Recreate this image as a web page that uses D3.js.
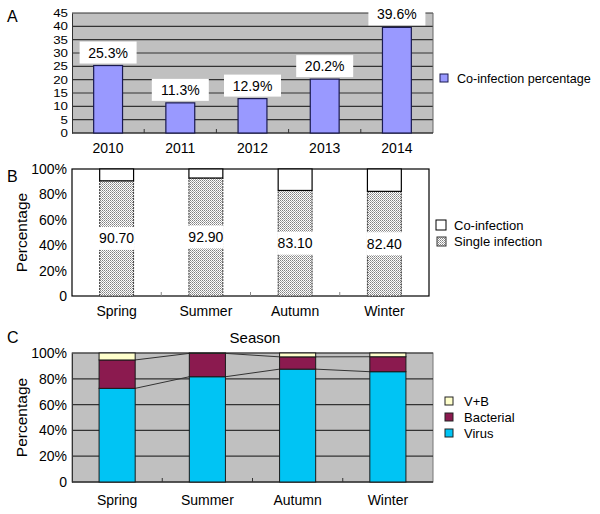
<!DOCTYPE html>
<html><head><meta charset="utf-8">
<script src="https://cdn.jsdelivr.net/npm/d3@7"></script>
<style>body{margin:0;background:#fff}svg{font-family:"Liberation Sans",Arial,sans-serif}</style>
</head><body><svg id="c" width="600" height="514"></svg>
<script>
// ---------- data ----------
const years = ["2010","2011","2012","2013","2014"];
const coinfectionPct = [25.3, 11.3, 12.9, 20.2, 39.6];
const coinfectionLabels = ["25.3%","11.3%","12.9%","20.2%","39.6%"];
const yTicksA = [0,5,10,15,20,25,30,35,40,45];

const seasons = ["Spring","Summer","Autumn","Winter"];
const singleInfection = [90.7, 92.9, 83.1, 82.4];
const singleLabels = ["90.70","92.90","83.10","82.40"];
const pctTicks = [0,20,40,60,80,100];

const virus = [72.6, 81.6, 87.5, 85.5];
const bacterial = [22.0, 18.1, 9.5, 11.6];
const vPlusB = [5.4, 0.3, 3.0, 2.9];

const svg = d3.select("#c");
const defs = svg.append("defs");
const pat = defs.append("pattern").attr("id","dots").attr("width",2).attr("height",2).attr("patternUnits","userSpaceOnUse");
pat.append("rect").attr("width",2).attr("height",2).attr("fill","#fff");
pat.append("rect").attr("x",0).attr("y",0).attr("width",1).attr("height",1).attr("fill","#808080");
pat.append("rect").attr("x",1).attr("y",1).attr("width",1).attr("height",1).attr("fill","#a8a8a8");

const pctFmt = d => d===0 ? "0" : d + "%";

// ---------- Panel A ----------
{
  const L=72,R=433,T=13,B=133;
  const x = d3.scaleBand().domain(years).range([L,R]).paddingInner(0.6).paddingOuter(0.3);
  const xb = d3.scaleBand().domain(years).range([L,R]);
  const y = d3.scaleLinear().domain([0,45]).range([B,T]);
  const g = svg.append("g");
  g.append("rect").attr("x",L).attr("y",T).attr("width",R-L).attr("height",B-T).attr("fill","#c0c0c0");
  g.selectAll("line.grid").data(yTicksA.slice(1)).join("line")
    .attr("x1",L).attr("x2",R).attr("y1",d=>y(d)).attr("y2",d=>y(d))
    .attr("stroke","#333").attr("stroke-width",1.2);
  g.append("line").attr("x1",R).attr("x2",R).attr("y1",T).attr("y2",B).attr("stroke","#666");
  const ax = g.append("g").attr("transform",`translate(${L},0)`)
    .call(d3.axisLeft(y).tickValues(yTicksA).tickSize(0).tickPadding(4));
  ax.select(".domain").attr("stroke","#333");
  ax.selectAll("text").attr("font-size",11).attr("fill","#000")
    .attr("textLength",d=>String(d).length*7.4).attr("lengthAdjust","spacingAndGlyphs")
    .style("font-family","Liberation Sans, Arial, sans-serif");
  g.append("line").attr("x1",L).attr("x2",R).attr("y1",B).attr("y2",B).attr("stroke","#333").attr("stroke-width",1.5);
  g.selectAll("line.tk").data(years.slice(1)).join("line")
    .attr("x1",d=>xb(d)).attr("x2",d=>xb(d)).attr("y1",B).attr("y2",B-4).attr("stroke","#333");
  g.selectAll("rect.bar").data(years).join("rect")
    .attr("x",d=>x(d)).attr("width",x.bandwidth())
    .attr("y",(d,i)=>y(coinfectionPct[i])).attr("height",(d,i)=>B-y(coinfectionPct[i]))
    .attr("fill","#9999ff").attr("stroke","#1a1a50").attr("stroke-width",1.2);
  const bw=57,bh=22;
  g.selectAll("rect.lbl").data(years).join("rect")
    .attr("x",d=>x(d)+x.bandwidth()/2-bw/2).attr("y",(d,i)=>y(coinfectionPct[i])-bh-2)
    .attr("width",bw).attr("height",bh).attr("fill","#fff");
  g.selectAll("text.lbl").data(years).join("text")
    .attr("x",d=>x(d)+x.bandwidth()/2).attr("y",(d,i)=>y(coinfectionPct[i])-8)
    .attr("text-anchor","middle").attr("font-size",14).text((d,i)=>coinfectionLabels[i]);
  g.selectAll("text.xl").data(years).join("text")
    .attr("x",d=>xb(d)+xb.bandwidth()/2).attr("y",153)
    .attr("text-anchor","middle").attr("font-size",14).text(d=>d);
  g.append("rect").attr("x",440).attr("y",74).attr("width",8).attr("height",8).attr("fill","#9999ff").attr("stroke","#1a1a50");
  g.append("text").attr("x",457).attr("y",83).attr("font-size",12.6).text("Co-infection percentage");
  g.append("text").attr("x",7).attr("y",22).attr("font-size",16).text("A");
}

// ---------- Panel B ----------
{
  const L=72,R=429,T=169,B=296;
  const x = d3.scaleBand().domain(seasons).range([L,R]).paddingInner(0.62).paddingOuter(0.31);
  const xb = d3.scaleBand().domain(seasons).range([L,R]);
  const y = d3.scaleLinear().domain([0,100]).range([B,T]);
  const g = svg.append("g");
  g.append("rect").attr("x",L).attr("y",T).attr("width",R-L).attr("height",B-T).attr("fill","#fff").attr("stroke","#000").attr("stroke-width",1.2);
  const ax = g.append("g").attr("transform",`translate(${L},0)`)
    .call(d3.axisLeft(y).tickValues(pctTicks).tickFormat(pctFmt).tickSize(0).tickPadding(5));
  ax.select(".domain").remove();
  ax.selectAll("text").attr("font-size",14).attr("fill","#000").style("font-family","Liberation Sans, Arial, sans-serif");
  g.selectAll("line.tk").data(seasons.slice(1)).join("line")
    .attr("x1",d=>xb(d)).attr("x2",d=>xb(d)).attr("y1",B).attr("y2",B-4).attr("stroke","#888");
  g.selectAll("rect.single").data(seasons).join("rect")
    .attr("x",d=>x(d)).attr("width",x.bandwidth())
    .attr("y",(d,i)=>y(singleInfection[i])).attr("height",(d,i)=>B-y(singleInfection[i]))
    .attr("fill","url(#dots)").attr("stroke","#333").attr("stroke-width",1).attr("stroke-dasharray","2,1");
  g.selectAll("rect.co").data(seasons).join("rect")
    .attr("x",d=>x(d)).attr("width",x.bandwidth())
    .attr("y",y(100)).attr("height",(d,i)=>y(singleInfection[i])-y(100))
    .attr("fill","#fff").attr("stroke","#000").attr("stroke-width",1.2);
  const bh=23;
  g.selectAll("rect.lbl").data(seasons).join("rect")
    .attr("x",d=>x(d)-1).attr("width",x.bandwidth()+2)
    .attr("y",(d,i)=>y(singleInfection[i]/2)-bh/2).attr("height",bh).attr("fill","#fff");
  g.selectAll("text.lbl").data(seasons).join("text")
    .attr("x",d=>x(d)+x.bandwidth()/2).attr("y",(d,i)=>y(singleInfection[i]/2)+5)
    .attr("text-anchor","middle").attr("font-size",14).text((d,i)=>singleLabels[i]);
  g.selectAll("text.xl").data(seasons).join("text")
    .attr("x",d=>xb(d)+xb.bandwidth()/2).attr("y",316)
    .attr("text-anchor","middle").attr("font-size",14).text(d=>d);
  g.append("text").attr("transform",`translate(27,${(T+B)/2}) rotate(-90)`).attr("text-anchor","middle").attr("font-size",15.5).text("Percentage");
  g.append("rect").attr("x",436).attr("y",220).attr("width",10).attr("height",10).attr("fill","#fff").attr("stroke","#000");
  g.append("text").attr("x",454).attr("y",230).attr("font-size",13).text("Co-infection");
  g.append("rect").attr("x",437).attr("y",237).attr("width",9).attr("height",9).attr("fill","url(#dots)").attr("stroke","#333");
  g.append("text").attr("x",454).attr("y",246).attr("font-size",13).text("Single infection");
  g.append("text").attr("x",7).attr("y",182).attr("font-size",16).text("B");
}

// ---------- Panel C ----------
{
  const L=72,R=433,T=353,B=482;
  const x = d3.scaleBand().domain(seasons).range([L,R]).paddingInner(0.6).paddingOuter(0.3);
  const xb = d3.scaleBand().domain(seasons).range([L,R]);
  const y = d3.scaleLinear().domain([0,100]).range([B,T]);
  const g = svg.append("g");
  g.append("rect").attr("x",L).attr("y",T).attr("width",R-L).attr("height",B-T).attr("fill","#c0c0c0").attr("stroke","#777");
  g.selectAll("line.grid").data(pctTicks.slice(1)).join("line")
    .attr("x1",L).attr("x2",R).attr("y1",d=>y(d)).attr("y2",d=>y(d))
    .attr("stroke","#333").attr("stroke-width",1.2);
  const ax = g.append("g").attr("transform",`translate(${L},0)`)
    .call(d3.axisLeft(y).tickValues(pctTicks).tickFormat(pctFmt).tickSize(0).tickPadding(5));
  ax.select(".domain").attr("stroke","#333");
  ax.selectAll("text").attr("font-size",14).attr("fill","#000").style("font-family","Liberation Sans, Arial, sans-serif");
  g.append("line").attr("x1",L).attr("x2",R).attr("y1",B).attr("y2",B).attr("stroke","#333").attr("stroke-width",1.5);
  g.selectAll("line.tk").data(seasons.slice(1)).join("line")
    .attr("x1",d=>xb(d)).attr("x2",d=>xb(d)).attr("y1",B).attr("y2",B-4).attr("stroke","#333");
  const keys=["Virus","Bacterial","V+B"];
  const colors={"Virus":"#00c4f4","Bacterial":"#8b1a4f","V+B":"#ffffcc"};
  const rows = seasons.map((s,i)=>({season:s,"Virus":virus[i],"Bacterial":bacterial[i],"V+B":vPlusB[i]}));
  const stacked = d3.stack().keys(keys)(rows);
  stacked.slice(0,2).forEach(ser=>{
    for(let i=0;i<ser.length-1;i++){
      g.append("line")
        .attr("x1",x(seasons[i])+x.bandwidth()).attr("y1",y(ser[i][1]))
        .attr("x2",x(seasons[i+1])).attr("y2",y(ser[i+1][1]))
        .attr("stroke","#333").attr("stroke-width",1);
    }
  });
  stacked.forEach(ser=>{
    g.selectAll(null).data(ser).join("rect")
      .attr("x",d=>x(d.data.season)).attr("width",x.bandwidth())
      .attr("y",d=>y(d[1])).attr("height",d=>y(d[0])-y(d[1]))
      .attr("fill",colors[ser.key]).attr("stroke","#1a1a1a").attr("stroke-width",1);
  });
  g.selectAll("text.xl").data(seasons).join("text")
    .attr("x",d=>xb(d)+xb.bandwidth()/2).attr("y",505)
    .attr("text-anchor","middle").attr("font-size",14).text(d=>d);
  g.append("text").attr("x",255).attr("y",343).attr("text-anchor","middle").attr("font-size",15).text("Season");
  g.append("text").attr("transform",`translate(27,${(T+B)/2}) rotate(-90)`).attr("text-anchor","middle").attr("font-size",15.5).text("Percentage");
  const leg=[["V+B",401],["Bacterial",417],["Virus",433]];
  leg.forEach(([k,yy])=>{
    g.append("rect").attr("x",445).attr("y",yy-4).attr("width",8).attr("height",8).attr("fill",colors[k]).attr("stroke","#222");
    g.append("text").attr("x",464).attr("y",yy+5).attr("font-size",13).text(k);
  });
  g.append("text").attr("x",7).attr("y",343).attr("font-size",16).text("C");
}
</script></body></html>
